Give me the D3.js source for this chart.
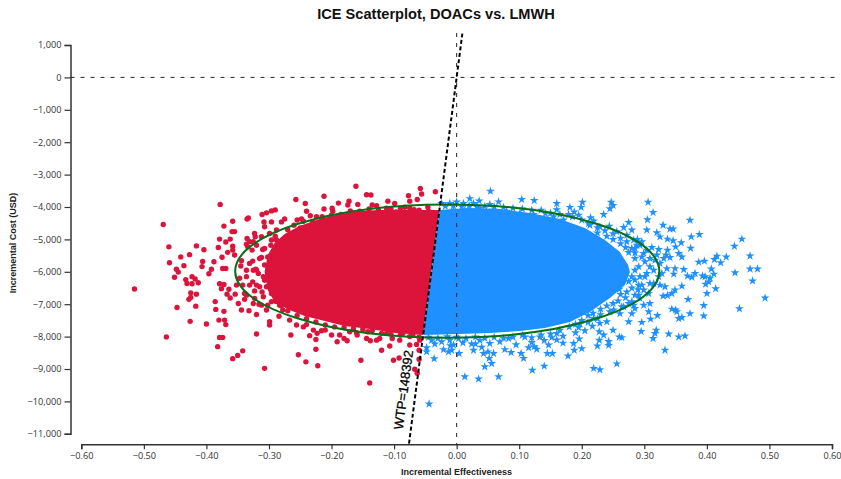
<!DOCTYPE html>
<html>
<head>
<meta charset="utf-8">
<title>ICE Scatterplot</title>
<script src="https://cdn.jsdelivr.net/npm/d3@7"></script>
<style>
  html, body { margin: 0; padding: 0; background: #fff; }
  .axis text { font-family: "Open Sans", sans-serif; font-size: 9.2px; fill: #333; }
  .axis path, .axis line { stroke: #333; }
  .axis path { stroke-width: 1.5px; }
  .axis line { stroke-width: 1.2px; }
  .axis-label { font-family: "Liberation Sans", Arial, sans-serif; font-size: 9px; font-weight: bold; fill: #222; }
  .title { font-family: "Liberation Sans", Arial, sans-serif; font-size: 14.6px; font-weight: bold; fill: #111; }
  .wtp-label { font-family: "Liberation Sans", Arial, sans-serif; font-size: 13px; fill: #000; stroke: #000; stroke-width: 0.3px; }
</style>
</head>
<body>
<div id="chart-container"></div>
<script>
// Tick labels
const xTicks = [-0.6, -0.5, -0.4, -0.3, -0.2, -0.1, 0, 0.1, 0.2, 0.3, 0.4, 0.5, 0.6];
const yTicks = [1000, 0, -1000, -2000, -3000, -4000, -5000, -6000, -7000, -8000, -9000, -10000, -11000];

const wtp = 148392;

// Confidence ellipse: centre and half widths
const ellipseCentre = [-0.015, -5980];
const ellipseRadius = [0.339, 2058];

// The middle of the cloud is solid colour, single points cannot be read there,
// so it is kept as an outline [effectiveness, cost]. Points outside are read one by one.
const redCore = [[-0.0276, -4095], [-0.059, -4095], [-0.091, -4095], [-0.123, -4095], [-0.155, -4126], [-0.187, -4219],
  [-0.219, -4373], [-0.251, -4588], [-0.275, -4835], [-0.291, -5113], [-0.302, -5484], [-0.307, -6009], [-0.302, -6564],
  [-0.291, -6935], [-0.267, -7182], [-0.243, -7367], [-0.211, -7521], [-0.179, -7675], [-0.139, -7767], [-0.099, -7891],
  [-0.0536, -7952]];

const blueCore = [[-0.0276, -4095], [0.021, -4033], [0.069, -4064], [0.117, -4188], [0.165, -4373], [0.205, -4651],
  [0.237, -5021], [0.261, -5391], [0.274, -5792], [0.277, -6009], [0.269, -6410], [0.245, -6811], [0.213, -7243],
  [0.181, -7551], [0.141, -7737], [0.101, -7830], [0.053, -7891], [0.005, -7922], [-0.0536, -7952]];

const redPoints = [[-0.378, -3920], [-0.469, -4540], [-0.257, -3770], [-0.46, -5230], [-0.416, -5200], [-0.404, -5320],
  [-0.441, -5540], [-0.427, -5470], [-0.459, -5720], [-0.436, -5810], [-0.448, -5920], [-0.445, -6010], [-0.451, -6170],
  [-0.433, -6240], [-0.431, -6360], [-0.423, -6150], [-0.418, -6220], [-0.423, -6370], [-0.413, -6340], [-0.425, -6650],
  [-0.416, -6690], [-0.425, -6790], [-0.428, -6850], [-0.447, -7100], [-0.417, -7060], [-0.515, -6530], [-0.426, -7530],
  [-0.4, -7610], [-0.464, -8010], [-0.386, -6920], [-0.385, -7160], [-0.372, -7220], [-0.38, -7490], [-0.371, -7490],
  [-0.369, -7630], [-0.379, -8030], [-0.374, -8030], [-0.382, -8310], [-0.358, -8680], [-0.35, -8580], [-0.342, -8440],
  [-0.307, -8980], [-0.32, -7920], [-0.299, -7540], [-0.299, -7640], [-0.265, -7950], [-0.253, -8560], [-0.372, -4590],
  [-0.358, -4440], [-0.359, -4760], [-0.355, -4760], [-0.335, -4370], [-0.333, -4340], [-0.379, -4990], [-0.362, -4990],
  [-0.369, -5080], [-0.381, -5250], [-0.375, -5550], [-0.388, -5690], [-0.406, -5680], [-0.407, -5840], [-0.392, -5920],
  [-0.396, -6060], [-0.374, -5900], [-0.369, -5900], [-0.358, -5210], [-0.355, -5480], [-0.366, -5400], [-0.358, -5330],
  [-0.335, -4970], [-0.323, -4820], [-0.322, -4920], [-0.307, -4610], [-0.308, -4460], [-0.311, -4230], [-0.304, -4180],
  [-0.296, -4120], [-0.29, -4090], [-0.275, -4370], [-0.28, -4460], [-0.296, -4460], [-0.336, -5150], [-0.327, -5330],
  [-0.31, -5310], [-0.344, -5660], [-0.345, -5820], [-0.331, -5740], [-0.326, -5670], [-0.321, -5920], [-0.336, -5950],
  [-0.352, -6410], [-0.379, -6370], [-0.372, -6390], [-0.376, -6520], [-0.364, -6540], [-0.367, -6690], [-0.362, -6810],
  [-0.354, -6690], [-0.339, -6670], [-0.339, -6850], [-0.349, -6980], [-0.344, -7180], [-0.332, -7200], [-0.32, -7320],
  [-0.316, -7000], [-0.304, -7180], [-0.284, -7370], [-0.267, -7490], [-0.256, -7640], [-0.312, -5560], [-0.32, -5950],
  [-0.315, -6460], [-0.307, -6260], [-0.326, -6310], [-0.323, -6590], [-0.311, -6620], [-0.299, -6260], [-0.302, -5950],
  [-0.302, -5540], [-0.297, -5180], [-0.288, -5020], [-0.331, -5070], [-0.296, -6920], [-0.283, -7030],
  // inside the ellipse, left end
  [-0.325, -5070], [-0.334, -5230], [-0.32, -5180], [-0.312, -4920], [-0.299, -4820], [-0.288, -4710], [-0.296, -5020],
  [-0.307, -5280], [-0.315, -5590], [-0.307, -5790], [-0.325, -5950], [-0.317, -6050], [-0.309, -6150], [-0.336, -6150],
  [-0.331, -6410], [-0.32, -6410], [-0.304, -6460], [-0.296, -6410], [-0.347, -6200], [-0.342, -6410], [-0.336, -6720],
  [-0.323, -6820], [-0.309, -6770], [-0.296, -6670], [-0.288, -6920], [-0.278, -7180], [-0.302, -7030], [-0.288, -6770],
  [-0.312, -7030], [-0.325, -6980],
  // top edge
  [-0.242, -3890], [-0.212, -3670], [-0.161, -3360], [-0.144, -3620], [-0.137, -3630], [-0.058, -3430], [-0.189, -3880],
  [-0.172, -3820], [-0.174, -3940], [-0.158, -3920], [-0.212, -4060], [-0.199, -4040], [-0.198, -4130], [-0.24, -4130],
  [-0.234, -4270], [-0.224, -4300], [-0.11, -3820], [-0.099, -3890], [-0.112, -4040], [-0.135, -3940], [-0.128, -3960],
  [-0.077, -3650], [-0.075, -3820], [-0.063, -3770], [-0.097, -4150], [-0.255, -4400], [-0.248, -4370], [-0.034, -3530],
  [-0.056, -3600], [-0.083, -4010], [-0.068, -4080], [-0.046, -4010], [-0.26, -4560], [-0.245, -4440], [-0.23, -4450],
  [-0.215, -4300], [-0.2, -4250], [-0.185, -4230], [-0.17, -4120], [-0.155, -4130], [-0.14, -4060], [-0.125, -4110],
  [-0.105, -4070], [-0.09, -4050], [-0.075, -4030], [-0.06, -4100], [-0.045, -4130], [-0.25, -4650], [-0.27, -4700],
  [-0.29, -4900],
  // bottom edge
  [-0.241, -8780], [-0.222, -8900], [-0.225, -8390], [-0.225, -8090], [-0.235, -7970], [-0.229, -7800], [-0.223, -7900],
  [-0.216, -7820], [-0.2, -7950], [-0.191, -8160], [-0.187, -7950], [-0.18, -8060], [-0.175, -8130], [-0.159, -7950],
  [-0.144, -8060], [-0.138, -8130], [-0.128, -8110], [-0.123, -8060], [-0.12, -8420], [-0.107, -8290], [-0.101, -8730],
  [-0.092, -8660], [-0.153, -8730], [-0.139, -9430], [-0.075, -8260], [-0.064, -8240], [-0.103, -8060], [-0.091, -8110],
  [-0.07, -7950], [-0.245, -7700], [-0.171, -7850], [-0.142, -7850], [-0.112, -7900], [-0.086, -7900], [-0.06, -8700],
  [-0.067, -9010], [-0.063, -9130], [-0.06, -8420], [-0.059, -8110], [-0.27, -7200], [-0.255, -7350], [-0.24, -7450],
  [-0.225, -7550], [-0.21, -7640], [-0.195, -7700], [-0.18, -7720], [-0.165, -7760], [-0.15, -7780], [-0.135, -7820],
  [-0.12, -7900], [-0.105, -7930], [-0.09, -7950], [-0.075, -8000], [-0.06, -8020], [-0.24, -7630], [-0.21, -7800],
  [-0.16, -7880], [-0.28, -7050], [-0.29, -6900]];

const bluePoints = [[0.201, -3850], [0.181, -4010], [0.188, -4150], [0.199, -4010], [0.247, -3850], [0.25, -3950],
  [0.245, -4050], [0.235, -4230], [0.214, -4330], [0.219, -4430], [0.306, -3850], [0.314, -4170], [0.305, -4390],
  [0.304, -4710], [0.33, -4560], [0.373, -4410], [0.341, -4680], [0.346, -4680], [0.32, -4790], [0.325, -4920],
  [0.375, -4920], [0.388, -4850], [0.337, -4990], [0.346, -5040], [0.359, -5100], [0.374, -5270], [0.35, -5230],
  [0.355, -5430], [0.36, -5540], [0.312, -5250], [0.323, -5310], [0.337, -5330], [0.335, -5480], [0.341, -5560],
  [0.387, -5700], [0.396, -5670], [0.416, -5520], [0.412, -5620], [0.422, -5720], [0.431, -5540], [0.444, -5210],
  [0.456, -4990], [0.469, -5510], [0.469, -5910], [0.481, -5910], [0.445, -6030], [0.473, -6280], [0.493, -6810],
  [0.452, -7140], [0.407, -5910], [0.411, -6070], [0.405, -6200], [0.397, -6150], [0.393, -6130], [0.403, -6310],
  [0.398, -6380], [0.414, -6520], [0.4, -6670], [0.381, -6050], [0.376, -6170], [0.369, -6130], [0.363, -5930],
  [0.349, -5900], [0.347, -6070], [0.336, -5900], [0.36, -6440], [0.349, -6560], [0.344, -6670], [0.337, -6730],
  [0.33, -6750], [0.325, -6410], [0.333, -6460], [0.37, -6850], [0.395, -7040], [0.395, -7360], [0.373, -7290],
  [0.36, -7410], [0.355, -7440], [0.35, -7180], [0.344, -7150], [0.352, -7230], [0.321, -7350], [0.307, -7230],
  [0.31, -7460], [0.296, -7560], [0.295, -7840], [0.319, -7800], [0.317, -7900], [0.314, -8060], [0.339, -7920],
  [0.355, -8010], [0.365, -7980], [0.333, -8420], [0.264, -8030], [0.26, -8010], [0.25, -7800], [0.243, -8150],
  [0.243, -8270], [0.228, -8110], [0.225, -8290], [0.2, -8370], [0.196, -8070], [0.187, -8210], [0.188, -8420],
  [0.178, -8600], [0.256, -8840], [0.219, -8980], [0.229, -9020], [0.228, -7850], [0.235, -7950], [0.217, -7680],
  [0.275, -4480], [0.267, -4630], [0.28, -4710], [0.289, -5000], [0.244, -4590], [0.275, -7540], [0.28, -7290],
  [0.24, -7540], [0.229, -7590], [0.309, -5840], [0.301, -6150], [0.309, -6360], [0.299, -5430], [0.293, -5180],
  [0.283, -5020], [0.272, -4870], [0.256, -4760], [0.229, -4610], [0.211, -4510], [0.291, -5840], [0.296, -6410],
  [0.291, -6720], [0.28, -6920], [0.264, -7080], [0.245, -7230], [0.219, -7440], [0.197, -7610], [0.309, -6980],
  [0.299, -7030], [0.285, -7130],
  // inside the ellipse, right end
  [0.272, -5070], [0.28, -5280], [0.288, -5180], [0.296, -5070], [0.304, -5330], [0.309, -5590], [0.317, -5640],
  [0.296, -5540], [0.285, -5590], [0.301, -5690], [0.315, -5950], [0.304, -6050], [0.293, -6150], [0.285, -5950],
  [0.28, -6150], [0.291, -6410], [0.299, -6560], [0.285, -6720], [0.275, -6980], [0.267, -7080], [0.283, -7030],
  [0.261, -7290], [0.251, -7180], [0.293, -6820], [0.307, -6670], [0.315, -6360], [0.323, -6150], [0.328, -6050],
  [0.325, -5740], [0.331, -5590], [0.32, -5480], [0.213, -4560], [0.225, -4640], [0.225, -4800], [0.237, -4730],
  [0.24, -4900], [0.25, -4820], [0.25, -5000], [0.262, -4960], [0.262, -5130], [0.27, -5250], [0.275, -5400],
  [0.285, -5420], [0.285, -5280], [0.28, -6500], [0.272, -6620], [0.27, -6800], [0.262, -6700], [0.258, -6900],
  [0.25, -6980], [0.24, -7050], [0.23, -7150], [0.23, -7320], [0.218, -7280], [0.21, -7350], [0.2, -7500],
  [0.19, -7620], [0.26, -6540], [0.275, -6300], [0.285, -6250], [0.29, -6550],
  // top edge
  [0.054, -3510], [0.021, -3740], [0.036, -3810], [0.067, -3840], [0.053, -3920], [0.104, -3770], [0.124, -3800],
  [0.16, -3890], [0.16, -4080], [0.179, -4230], [0.142, -4200], [-0.011, -3890], [0, -3840], [-0.024, -3890],
  [0.011, -3890], [0.027, -3890], [0.08, -4130], [0.101, -4200], [0.123, -4230], [0.155, -4300], [0.171, -4400],
  [0.059, -4100], [0.037, -4040], [0.013, -4100], [-0.005, -4100], [0.085, -4300], [0.061, -4400],
  [-0.018, -3980], [-0.005, -3960], [0.008, -3990], [0.02, -3960], [0.032, -3990], [0.045, -3980], [0.06, -3990],
  [0.075, -4010], [0.09, -4040], [0.105, -4060], [0.12, -4100], [0.135, -4100], [0.15, -4190], [0.165, -4230],
  [0.185, -4300], [0.2, -4400], [0.195, -4250],
  // bottom edge
  [-0.048, -8340], [-0.048, -8470], [-0.036, -8680], [-0.021, -8400], [-0.013, -8470], [-0.008, -8420], [-0.005, -8260],
  [0.004, -8520], [0.013, -9240], [0.035, -9310], [0.067, -9240], [0.027, -8420], [0.043, -8520], [0.052, -8670],
  [0.056, -8830], [0.045, -8930], [0.05, -8470], [0.059, -8520], [0.077, -8400], [0.087, -8490], [0.103, -8520],
  [0.107, -8670], [0.115, -8340], [0.124, -8310], [0.128, -8390], [0.121, -9040], [0.14, -8910], [0.145, -8520],
  [0.153, -8520], [0.147, -8260], [0.16, -7900], [0.133, -8010], [0.152, -8030], [0.083, -8060], [0.024, -8230],
  [-0.024, -8160], [-0.04, -8110], [0.069, -8160], [0.109, -8010], [0.053, -8210], [0.037, -8110], [0.003, -8060],
  [-0.011, -8110], [-0.044, -10080], [-0.045, -8020], [-0.03, -8050], [-0.015, -8000], [0, -8020], [0.015, -8060],
  [0.03, -8010], [0.045, -8050], [0.06, -8020], [0.075, -8050], [0.09, -8010], [0.105, -7960], [0.12, -8030],
  [0.135, -7950], [0.15, -7920], [0.165, -7800], [0.18, -7700], [0.195, -7720], [0.21, -7560], [0.225, -7450],
  [0.17, -7990], [0.19, -7880], [0.205, -7820], [-0.035, -8230], [-0.01, -8280], [0.01, -8190], [0.03, -8230],
  [0.04, -8330], [0.095, -8250], [0.12, -8180], [0.14, -8120], [0.17, -8200], [0.16, -8100]];

// Visualisation
const width = 841;
const height = 479;

const svg = d3
  .select("#chart-container")
  .append("svg")
  .attr("width", width)
  .attr("height", height)
  .style("display", "block");

const x = d3.scaleLinear().domain([-0.6, 0.6]).range([81.3, 832]);
const y = d3.scaleLinear().domain([1000, -11000]).range([45, 433.8]);

const xAxisY = 444.3;
const yAxisX = 70.5;

// Axes
svg
  .append("g")
  .attr("class", "axis")
  .attr("transform", `translate(0,${xAxisY})`)
  .call(d3.axisBottom(x).tickValues(xTicks).tickFormat(d3.format(".2f")).tickSize(5).tickSizeOuter(5));

svg
  .append("g")
  .attr("class", "axis")
  .attr("transform", `translate(${yAxisX},0)`)
  .call(d3.axisLeft(y).tickValues(yTicks).tickFormat(d3.format(",")).tickSize(6).tickSizeOuter(6));

// Points
const coreLine = d3
  .line()
  .x((d) => x(d[0]))
  .y((d) => y(d[1]))
  .curve(d3.curveLinearClosed);

svg.append("path").attr("d", coreLine(redCore)).attr("fill", "#dc143c");
svg.append("path").attr("d", coreLine(blueCore)).attr("fill", "#1e90ff");

svg
  .append("g")
  .selectAll("circle")
  .data(redPoints)
  .enter()
  .append("circle")
  .attr("cx", (d) => x(d[0]))
  .attr("cy", (d) => y(d[1]))
  .attr("r", 2.7)
  .attr("fill", "#dc143c");

const star = d3.symbol().type(d3.symbolStar).size(24);

svg
  .append("g")
  .selectAll("path")
  .data(bluePoints)
  .enter()
  .append("path")
  .attr("d", star)
  .attr("transform", (d) => `translate(${x(d[0])},${y(d[1])})`)
  .attr("fill", "#1e90ff");

// Reference lines
svg
  .append("line")
  .attr("x1", yAxisX)
  .attr("x2", x(0.605))
  .attr("y1", y(0))
  .attr("y2", y(0))
  .attr("stroke", "#222")
  .attr("stroke-width", 1)
  .attr("stroke-dasharray", "4,6");

svg
  .append("line")
  .attr("x1", x(0))
  .attr("x2", x(0))
  .attr("y1", 33)
  .attr("y2", xAxisY)
  .attr("stroke", "#222")
  .attr("stroke-width", 1)
  .attr("stroke-dasharray", "4,6");

// Ellipse
svg
  .append("ellipse")
  .attr("cx", x(ellipseCentre[0]))
  .attr("cy", y(ellipseCentre[1]))
  .attr("rx", x(ellipseRadius[0]) - x(0))
  .attr("ry", y(-ellipseRadius[1]) - y(0))
  .attr("fill", "none")
  .attr("stroke", "#067016")
  .attr("stroke-width", 2);

// WTP line goes through the origin, from below the y axis to above the top tick
const wtpEnds = [-11300, 1350];

svg
  .append("line")
  .attr("x1", x(wtpEnds[0] / wtp))
  .attr("y1", y(wtpEnds[0]))
  .attr("x2", x(wtpEnds[1] / wtp))
  .attr("y2", y(wtpEnds[1]))
  .attr("stroke", "#000")
  .attr("stroke-width", 2)
  .attr("stroke-dasharray", "4,2.5");

const angle = (Math.atan2(y(0) - y(1000), x(1000 / wtp) - x(0)) * 180) / Math.PI;

svg
  .append("text")
  .attr("class", "wtp-label")
  .attr("text-anchor", "middle")
  .attr("transform", `translate(${x(-9660 / wtp) - 8},${y(-9660)}) rotate(${-angle})`)
  .text("WTP=" + wtp);

// Titles
svg
  .append("text")
  .attr("class", "title")
  .attr("x", 436)
  .attr("y", 19)
  .attr("text-anchor", "middle")
  .text("ICE Scatterplot, DOACs vs. LMWH");

svg
  .append("text")
  .attr("class", "axis-label")
  .attr("x", 456.5)
  .attr("y", 475)
  .attr("text-anchor", "middle")
  .text("Incremental Effectiveness");

svg
  .append("text")
  .attr("class", "axis-label")
  .attr("transform", "translate(16,243) rotate(-90)")
  .attr("text-anchor", "middle")
  .text("Incremental Cost (USD)");
</script>
</body>
</html>
